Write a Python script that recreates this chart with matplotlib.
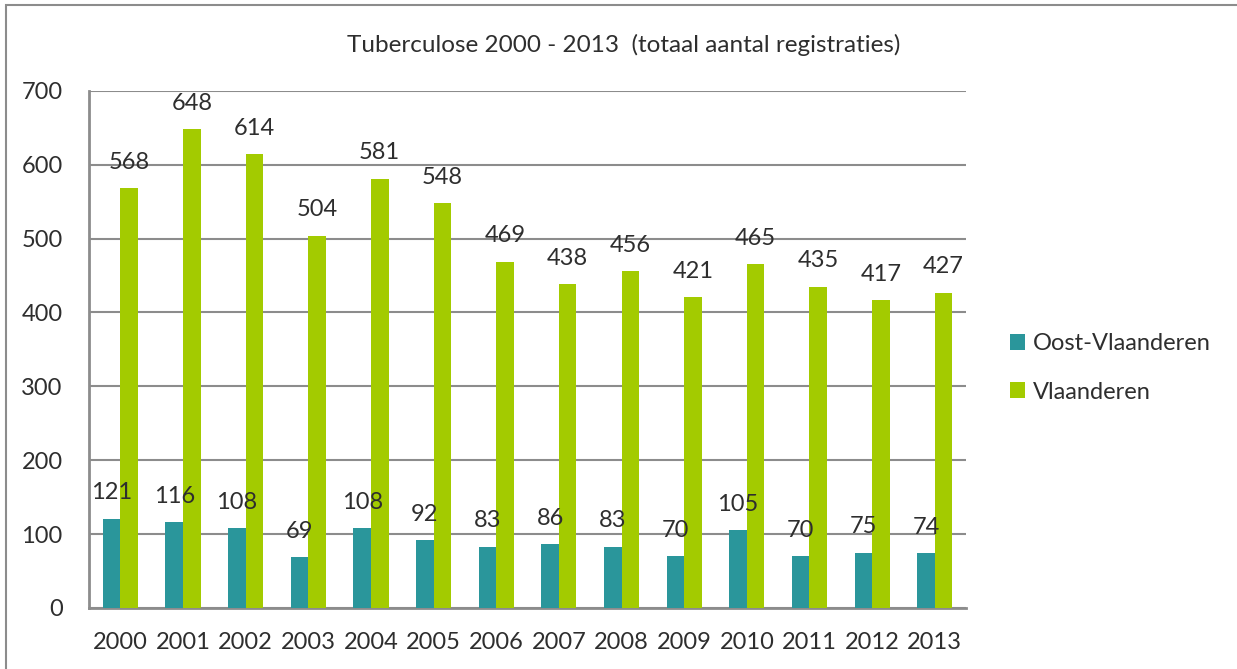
import numpy as np
import matplotlib.pyplot as plt
from matplotlib.patches import Rectangle

plt.rcParams['font.family'] = ['Lato', 'DejaVu Sans']

years = ['2000', '2001', '2002', '2003', '2004', '2005', '2006',
         '2007', '2008', '2009', '2010', '2011', '2012', '2013']
oostVlaanderen = [121, 116, 108, 69, 108, 92, 83, 86, 83, 70, 105, 70, 75, 74]
vlaanderen = [568, 648, 614, 504, 581, 548, 469, 438, 456, 421, 465, 435, 417, 427]

tealColor = '#2A969B'
greenColor = '#A3CB00'
textColor = '#2E2E2E'
gridColor = '#8C8C8C'

fig = plt.figure(figsize=(12.37, 6.69), dpi=100)
ax = fig.add_axes([0.072, 0.0912, 0.709, 0.773])

x = np.arange(len(years))
width = 0.28
bars1 = ax.bar(x - width/2, oostVlaanderen, width, color=tealColor, label='Oost-Vlaanderen', zorder=3)
bars2 = ax.bar(x + width/2, vlaanderen, width, color=greenColor, label='Vlaanderen', zorder=3)

for rect, value in zip(bars1, oostVlaanderen):
    ax.annotate(str(value), (rect.get_x() + rect.get_width()/2, value), xytext=(0, 11),
                textcoords='offset points', ha='center', va='bottom', fontsize=17, color=textColor, zorder=4)
for rect, value in zip(bars2, vlaanderen):
    ax.annotate(str(value), (rect.get_x() + rect.get_width()/2, value), xytext=(0, 11),
                textcoords='offset points', ha='center', va='bottom', fontsize=17, color=textColor, zorder=4)

ax.set_xlim(-0.5, len(years) - 0.5)
ax.set_ylim(0, 700)
ax.set_yticks(range(0, 701, 100))
ax.set_xticks(x)
ax.set_xticklabels(years)
ax.tick_params(axis='both', length=0, labelsize=17, colors=textColor)
ax.tick_params(axis='x', pad=17)
ax.tick_params(axis='y', pad=19)
ax.yaxis.grid(True, color=gridColor, linewidth=1.5, zorder=0)
for side in ['top', 'right']:
    ax.spines[side].set_visible(False)
for side in ['left', 'bottom']:
    ax.spines[side].set_color(gridColor)
    ax.spines[side].set_linewidth(2)

fig.text(0.504, 0.933, 'Tuberculose 2000 - 2013  (totaal aantal registraties)',
         ha='center', va='center', fontsize=17.5, color=textColor)

fig.legend(handles=[bars1, bars2], loc='center left', bbox_to_anchor=(0.799, 0.45),
           frameon=False, fontsize=17, handlelength=0.65, handleheight=0.65,
           handletextpad=0.35, labelspacing=1.15, labelcolor=textColor)

fig.patches.append(Rectangle((6/1237, -0.1), 1.2, 1 - 5/669 + 0.1, transform=fig.transFigure,
                             fill=False, edgecolor='#8C8C8C', linewidth=1.5))

fig.savefig('out.png', dpi=100)
